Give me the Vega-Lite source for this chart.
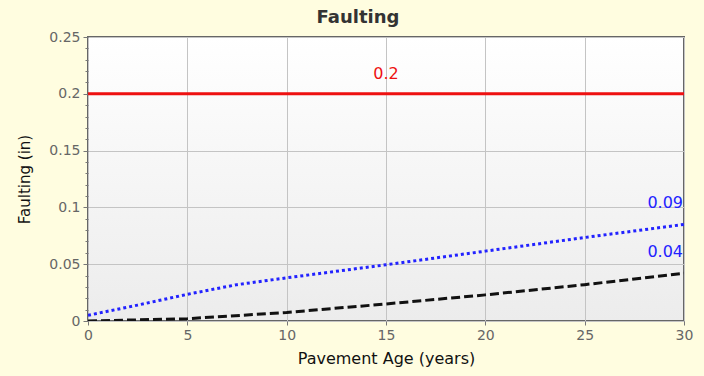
{
  "$schema": "https://vega.github.io/schema/vega-lite/v6.json",
  "width": 596,
  "height": 284,
  "autosize": {"type": "none"},
  "padding": {"left": 88, "top": 37, "right": 20, "bottom": 55},
  "background": "#fffde0",
  "title": {"text": "Faulting", "font": "DejaVu Sans", "fontSize": 18, "fontWeight": "bold", "color": "#333333", "anchor": "middle", "offset": 3, "dx": -28},
  "config": {
    "view": {
      "stroke": "#666666",
      "strokeWidth": 2,
      "fill": {"gradient": "linear", "x1": 0, "y1": 0, "x2": 0, "y2": 1, "stops": [{"offset": 0, "color": "#ffffff"}, {"offset": 1, "color": "#ececec"}]}
    },
    "axis": {"labelFont": "DejaVu Sans", "labelFontSize": 14, "labelColor": "#666666", "titleFont": "DejaVu Sans", "titleFontSize": 15, "titleFontWeight": "normal", "titleColor": "#111111", "gridColor": "#c4c4c4", "gridWidth": 1, "tickColor": "#777777", "domain": false, "labelFlush": false}
  },
  "datasets": {
    "lines": [
      {"age": 0, "value": 0.2, "series": "limit"},
      {"age": 30, "value": 0.2, "series": "limit"},
      {"age": 0, "value": 0.005, "series": "reliability"},
      {"age": 2.5, "value": 0.014, "series": "reliability"},
      {"age": 5, "value": 0.0235, "series": "reliability"},
      {"age": 7.5, "value": 0.032, "series": "reliability"},
      {"age": 10, "value": 0.038, "series": "reliability"},
      {"age": 15, "value": 0.0495, "series": "reliability"},
      {"age": 20, "value": 0.0615, "series": "reliability"},
      {"age": 25, "value": 0.0735, "series": "reliability"},
      {"age": 30, "value": 0.085, "series": "reliability"},
      {"age": 0, "value": 0.0, "series": "mean"},
      {"age": 5, "value": 0.002, "series": "mean"},
      {"age": 10, "value": 0.0075, "series": "mean"},
      {"age": 15, "value": 0.015, "series": "mean"},
      {"age": 20, "value": 0.023, "series": "mean"},
      {"age": 25, "value": 0.032, "series": "mean"},
      {"age": 30, "value": 0.042, "series": "mean"}
    ],
    "labels": [
      {"age": 15, "value": 0.2, "label": "0.2", "series": "limit"},
      {"age": 30, "value": 0.085, "label": "0.09", "series": "reliability"},
      {"age": 30, "value": 0.042, "label": "0.04", "series": "mean"}
    ]
  },
  "layer": [
    {
      "data": {"name": "lines"},
      "mark": {"type": "line", "strokeWidth": 3, "clip": true},
      "encoding": {
        "x": {"field": "age", "type": "quantitative", "scale": {"domain": [0, 30], "nice": false},
          "axis": {"title": "Pavement Age (years)", "values": [0, 5, 10, 15, 20, 25, 30], "tickCount": 7, "tickSize": 4, "labelPadding": 3, "titlePadding": 8, "titleFontSize": 16}},
        "y": {"field": "value", "type": "quantitative", "scale": {"domain": [0, 0.25], "nice": false},
          "axis": {"title": "Faulting (in)", "tickCount": 40, "values": [0, 0.01, 0.02, 0.03, 0.04, 0.05, 0.06, 0.07, 0.08, 0.09, 0.1, 0.11, 0.12, 0.13, 0.14, 0.15, 0.16, 0.17, 0.18, 0.19, 0.2, 0.21, 0.22, 0.23, 0.24, 0.25],
            "labelExpr": "round(datum.value*100) % 5 === 0 ? format(datum.value, '~g') : ''",
            "labelOverlap": false,
            "gridOpacity": {"condition": {"test": "round(datum.value*100) % 5 === 0", "value": 1}, "value": 0},
            "tickSize": {"condition": {"test": "round(datum.value*100) % 5 === 0", "value": 5}, "value": 3},
            "labelPadding": 3, "titlePadding": 16}},
        "color": {"field": "series", "type": "nominal", "scale": {"domain": ["limit", "reliability", "mean"], "range": ["#ee1111", "#2222ff", "#111111"]}, "legend": null},
        "strokeDash": {"field": "series", "type": "nominal", "scale": {"domain": ["limit", "reliability", "mean"], "range": [[1, 0], [3, 3], [9, 4]]}, "legend": null}
      }
    },
    {
      "data": {"name": "labels"},
      "transform": [{"filter": "datum.series === 'limit'"}],
      "mark": {"type": "text", "font": "DejaVu Sans", "fontSize": 16, "align": "center", "dy": -20, "color": "#ee1111"},
      "encoding": {
        "x": {"field": "age", "type": "quantitative"},
        "y": {"field": "value", "type": "quantitative"},
        "text": {"field": "label"}
      }
    },
    {
      "data": {"name": "labels"},
      "transform": [{"filter": "datum.series !== 'limit'"}],
      "mark": {"type": "text", "font": "DejaVu Sans", "fontSize": 16, "align": "right", "dx": -1, "dy": -21, "color": "#2222ff"},
      "encoding": {
        "x": {"field": "age", "type": "quantitative"},
        "y": {"field": "value", "type": "quantitative"},
        "text": {"field": "label"}
      }
    }
  ]
}
